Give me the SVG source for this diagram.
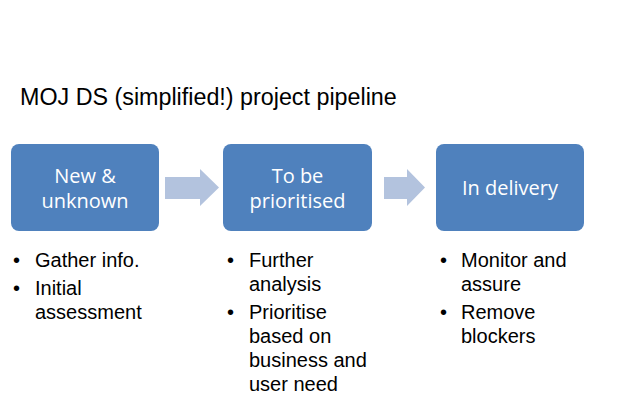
<svg xmlns="http://www.w3.org/2000/svg" width="620" height="401" viewBox="0 0 620 401">
<style>
.box{fill:#4F81BD;}
.arrow{fill:#B3C3DE;}
.bt{font-family:"Open Sans","Noto Sans",sans-serif;font-size:20px;fill:#FFFFFF;text-anchor:middle;}
.title{font-family:"Liberation Sans",Arial,sans-serif;font-size:23.3px;fill:#000000;}
.li{font-family:"Liberation Sans",Arial,sans-serif;font-size:20px;fill:#000000;}
</style>
<rect width="620" height="401" fill="#FFFFFF"/>
<text class="title" x="20" y="105">MOJ DS (simplified!) project pipeline</text>
<g id="node-new">
<rect class="box" x="11" y="144" width="148" height="87" rx="8"/>
<text class="bt" x="85" y="183">New &amp;</text>
<text class="bt" x="85" y="208">unknown</text>
</g>
<g id="node-prioritised">
<rect class="box" x="223" y="144" width="149" height="87" rx="8"/>
<text class="bt" x="297.5" y="183">To be</text>
<text class="bt" x="297.5" y="208">prioritised</text>
</g>
<g id="node-delivery">
<rect class="box" x="436" y="144" width="148" height="87" rx="8"/>
<text class="bt" x="510" y="195">In delivery</text>
</g>
<g id="connectors">
<polygon class="arrow" points="165,177 200,177 200,169 219,187.5 200,206 200,199 165,199"/>
<polygon class="arrow" points="384,177 407,177 407,169 425,187.5 407,206 407,199 384,199"/>
</g>
<g id="list-new">
<text class="li" x="13" y="267">•</text>
<text class="li" x="35" y="267">Gather info.</text>
<text class="li" x="13" y="295">•</text>
<text class="li" x="35" y="295">Initial</text>
<text class="li" x="35" y="319">assessment</text>
</g>
<g id="list-prioritised">
<text class="li" x="227" y="267">•</text>
<text class="li" x="249" y="267">Further</text>
<text class="li" x="249" y="291">analysis</text>
<text class="li" x="227" y="319">•</text>
<text class="li" x="249" y="319">Prioritise</text>
<text class="li" x="249" y="343">based on</text>
<text class="li" x="249" y="367">business and</text>
<text class="li" x="249" y="391">user need</text>
</g>
<g id="list-delivery">
<text class="li" x="440" y="267">•</text>
<text class="li" x="461" y="267">Monitor and</text>
<text class="li" x="461" y="291">assure</text>
<text class="li" x="440" y="319">•</text>
<text class="li" x="461" y="319">Remove</text>
<text class="li" x="461" y="343">blockers</text>
</g>
</svg>
